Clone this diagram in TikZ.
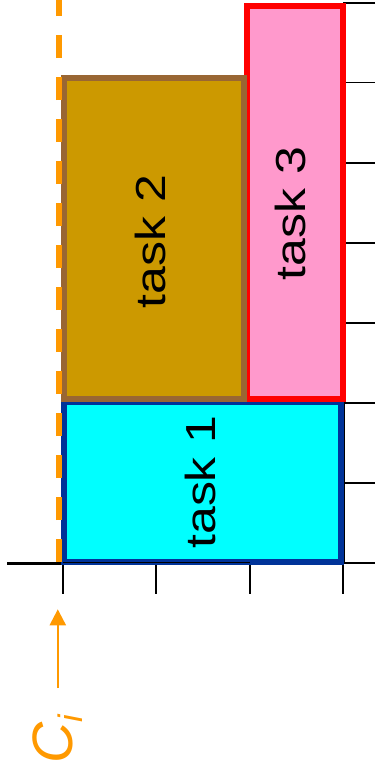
\documentclass[tikz,border=0pt]{standalone}
\usepackage{fontspec}
\setmainfont{Liberation Sans}
\usetikzlibrary{arrows.meta}
\definecolor{orng}{HTML}{FF9900}
\definecolor{cyanf}{HTML}{00FFFF}
\definecolor{blueb}{HTML}{003399}
\definecolor{goldf}{HTML}{CC9900}
\definecolor{brownb}{HTML}{996633}
\definecolor{pinkf}{HTML}{FF99CC}
\definecolor{redb}{HTML}{FF0000}
\tikzset{
  axisline/.style={draw=black, line width=2pt},
  tickline/.style={draw=black, line width=1.7pt},
  taskbox/.style={line width=6pt, line join=miter},
  tasklabel/.style={rotate=90, inner sep=0pt, anchor=center, font=\fontsize{42}{42}\selectfont},
  orangedash/.style={draw=orng, line width=5.7pt, dash pattern=on 23pt off 19pt},
}
\begin{document}
\begin{tikzpicture}[x=1pt,y=-1pt]
\useasboundingbox (0,0) rectangle (378,774);
% right axis
\draw[axisline] (375,3) -- (343.5,3) -- (343.5,563);
\foreach \yy in {82.5,162.7,242.7,322.7,402.7,482.7,562.7}
  \draw[tickline] (343,\yy) -- (375,\yy);
% bottom axis
\draw[draw=black, line width=3.3pt] (7,563.3) -- (63,563.3);
\foreach \xx in {63,156,250,343}
  \draw[tickline] (\xx,562.5) -- (\xx,594);
% tasks
\draw[taskbox, draw=blueb, fill=cyanf] (64,402) rectangle (341.3,561.5);
\draw[taskbox, draw=redb, fill=pinkf] (246.7,6.3) rectangle (342.5,398.8);
\draw[taskbox, draw=brownb, fill=goldf] (63.8,77.5) rectangle (244,398.8);
\draw[draw=black, line width=1.4pt] (63,562.5) -- (250,562.5);
% orange release line
\coordinate (dashbot) at (58.8,562);
\coordinate (dashtop) at (58.8,0);
\draw[orangedash] (dashbot) -- (dashtop);
% labels
\node[tasklabel] (l1) at (200,482) {\scalebox{1.19}[1]{task 1}};
\node[tasklabel] (l2) at (150,241.5) {\scalebox{1.19}[1]{task 2}};
\node[tasklabel] (l3) at (290,213.5) {\scalebox{1.19}[1]{task 3}};
% arrow and C_i
\coordinate (arrbot) at (57.8,688);
\coordinate (arrtop) at (57.8,609.3);
\draw[draw=orng, line width=2.3pt, -{Triangle[length=16pt,width=16pt]}] (arrbot) -- (arrtop);
\node[rotate=90, anchor=base west, inner sep=0pt, text=orng] (ci) at (72,764)
  {\fontsize{57}{57}\selectfont\itshape C\raisebox{-10pt}{\fontsize{34}{34}\selectfont i}};
\end{tikzpicture}
\end{document}
